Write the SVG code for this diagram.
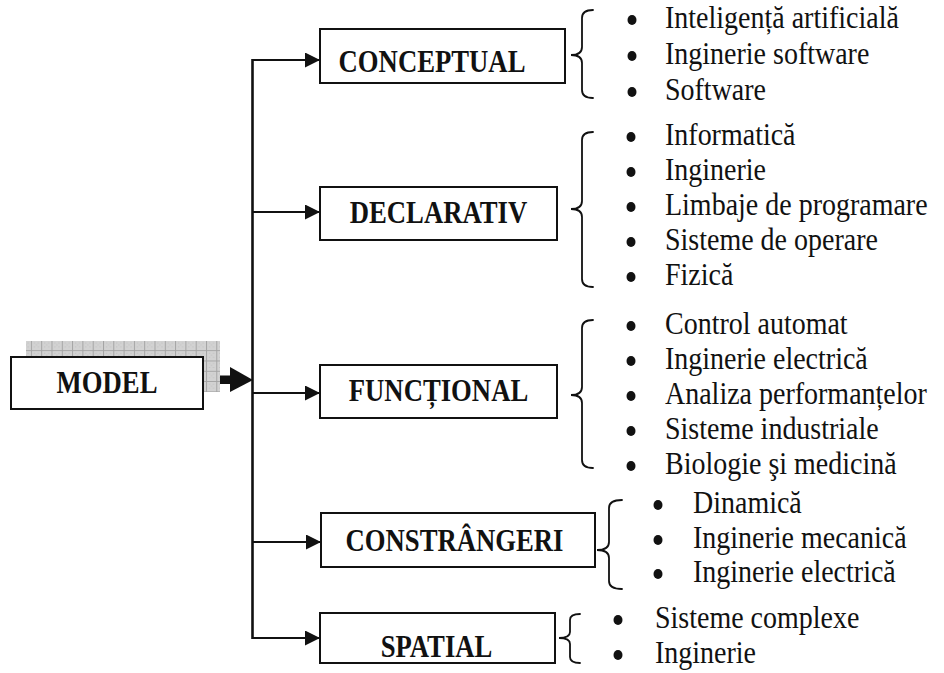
<svg xmlns="http://www.w3.org/2000/svg" width="944" height="673" viewBox="0 0 944 673">
  <defs>
    <style>
      .box { fill: #ffffff; stroke: #111111; stroke-width: 2; }
      .lbl { font-family: "Liberation Serif", "Times New Roman", serif; font-weight: bold; font-size: 26.7px; fill: #111111; text-anchor: middle; }
      .item { font-family: "Liberation Serif", "Times New Roman", serif; font-size: 28px; fill: #111111; }
      .link { fill: none; stroke: #111111; stroke-width: 2; }
      .brace { fill: none; stroke: #111111; stroke-width: 1.8; stroke-linecap: round; }
      .dot { fill: #111111; }
    </style>
    <marker id="head" markerUnits="userSpaceOnUse" markerWidth="16" markerHeight="16" refX="15" refY="7.5" orient="auto">
      <path d="M0,0 L15,7.5 L0,15 Z" fill="#111111"/>
    </marker>
    <pattern id="grid" width="10.3" height="10.3" patternUnits="userSpaceOnUse">
      <rect width="10.3" height="10.3" fill="#d2d2d2"/>
      <path d="M0,0.5 H10.3 M0.5,0 V10.3" stroke="#a4a4a4" stroke-width="1"/>
      <path d="M3,3 h1 M7,3 h1 M3,7 h1 M7,7 h1 M5,5 h1" stroke="#bdbdbd" stroke-width="1"/>
    </pattern>
  </defs>

  <!-- connectors: trunk, branches and the heavy arrow out of MODEL -->
  <g id="connectors">
    <line x1="252.5" y1="59" x2="252.5" y2="639" stroke="#111111" stroke-width="2.6"/>
    <line class="link" x1="252" y1="60" x2="320" y2="60" marker-end="url(#head)"/>
    <line class="link" x1="252" y1="212" x2="320" y2="212" marker-end="url(#head)"/>
    <line class="link" x1="252" y1="393" x2="320" y2="393" marker-end="url(#head)"/>
    <line class="link" x1="252" y1="542" x2="321" y2="542" marker-end="url(#head)"/>
    <line class="link" x1="252" y1="638" x2="320" y2="638" marker-end="url(#head)"/>
    <rect x="203" y="375.5" width="28" height="8.5" fill="#111111"/>
    <path d="M230,367 L253,380 L230,392 Z" fill="#111111"/>
  </g>

  <!-- root node with its shadow -->
  <g id="model">
    <rect x="26" y="341" width="194" height="51" fill="url(#grid)"/>
    <rect class="box" x="11" y="357" width="192" height="52"/>
    <text class="lbl" transform="translate(107 393) scale(1 1.15)">MODEL</text>
  </g>

  <g id="conceptual">
    <rect class="box" x="320" y="29" width="245" height="54"/>
    <text class="lbl" transform="translate(432 72) scale(1 1.15)">CONCEPTUAL</text>
    <path class="brace" d="M593,10 Q582,10 582,18 L582,47 Q582,55 571,55 Q582,55 582,63 L582,90 Q582,98 593,98"/>
    <g class="item">
      <ellipse class="dot" cx="632" cy="20" rx="4.5" ry="5"/>
      <ellipse class="dot" cx="632" cy="56" rx="4.5" ry="5"/>
      <ellipse class="dot" cx="632" cy="92" rx="4.5" ry="5"/>
      <text transform="translate(665 28) scale(1 1.15)">Inteligență artificială</text>
      <text transform="translate(665 64) scale(1 1.15)">Inginerie software</text>
      <text transform="translate(665 100) scale(1 1.15)">Software</text>
    </g>
  </g>

  <g id="declarativ">
    <rect class="box" x="320" y="187" width="237" height="53"/>
    <text class="lbl" transform="translate(438.5 223) scale(1 1.15)">DECLARATIV</text>
    <path class="brace" d="M593,132 Q582,132 582,140 L582,201 Q582,209 571,209 Q582,209 582,217 L582,279 Q582,287 593,287"/>
    <g class="item">
      <ellipse class="dot" cx="631" cy="137" rx="4.5" ry="5"/>
      <ellipse class="dot" cx="631" cy="172" rx="4.5" ry="5"/>
      <ellipse class="dot" cx="631" cy="207" rx="4.5" ry="5"/>
      <ellipse class="dot" cx="631" cy="242" rx="4.5" ry="5"/>
      <ellipse class="dot" cx="631" cy="277" rx="4.5" ry="5"/>
      <text transform="translate(665 145) scale(1 1.15)">Informatică</text>
      <text transform="translate(665 180) scale(1 1.15)">Inginerie</text>
      <text transform="translate(665 215) scale(1 1.15)">Limbaje de programare</text>
      <text transform="translate(665 250) scale(1 1.15)">Sisteme de operare</text>
      <text transform="translate(665 285) scale(1 1.15)">Fizică</text>
    </g>
  </g>

  <g id="functional">
    <rect class="box" x="320" y="365" width="237" height="53"/>
    <text class="lbl" transform="translate(438.5 401) scale(1 1.15)">FUNCȚIONAL</text>
    <path class="brace" d="M593,320 Q582,320 582,328 L582,387 Q582,395 571,395 Q582,395 582,403 L582,460 Q582,468 593,468"/>
    <g class="item">
      <ellipse class="dot" cx="631" cy="326" rx="4.5" ry="5"/>
      <ellipse class="dot" cx="631" cy="361" rx="4.5" ry="5"/>
      <ellipse class="dot" cx="631" cy="396" rx="4.5" ry="5"/>
      <ellipse class="dot" cx="631" cy="431" rx="4.5" ry="5"/>
      <ellipse class="dot" cx="631" cy="466" rx="4.5" ry="5"/>
      <text transform="translate(665 334) scale(1 1.15)">Control automat</text>
      <text transform="translate(665 369) scale(1 1.15)">Inginerie electrică</text>
      <text transform="translate(665 404) scale(1 1.15)">Analiza performanțelor</text>
      <text transform="translate(665 439) scale(1 1.15)">Sisteme industriale</text>
      <text transform="translate(665 474) scale(1 1.15)">Biologie şi medicină</text>
    </g>
  </g>

  <g id="constrangeri">
    <rect class="box" x="321" y="513" width="274" height="54"/>
    <text class="lbl" transform="translate(454.5 551) scale(1 1.15)">CONSTRÂNGERI</text>
    <path class="brace" d="M622,500 Q609,500 609,508 L609,542 Q609,550 597,550 Q609,550 609,558 L609,581 Q609,589 622,589"/>
    <g class="item">
      <ellipse class="dot" cx="658" cy="505" rx="4.5" ry="5"/>
      <ellipse class="dot" cx="658" cy="540" rx="4.5" ry="5"/>
      <ellipse class="dot" cx="658" cy="574" rx="4.5" ry="5"/>
      <text transform="translate(693 513) scale(1 1.15)">Dinamică</text>
      <text transform="translate(693 548) scale(1 1.15)">Inginerie mecanică</text>
      <text transform="translate(693 582) scale(1 1.15)">Inginerie electrică</text>
    </g>
  </g>

  <g id="spatial">
    <rect class="box" x="320" y="613" width="235" height="50"/>
    <text class="lbl" transform="translate(436.5 657) scale(1 1.15)">SPATIAL</text>
    <path class="brace" d="M580,614 Q570,614 570,620 L570,632 Q570,638 559,638 Q570,638 570,644 L570,657 Q570,663 580,663"/>
    <g class="item">
      <ellipse class="dot" cx="618" cy="620" rx="4.5" ry="5"/>
      <ellipse class="dot" cx="618" cy="655" rx="4.5" ry="5"/>
      <text transform="translate(655 628) scale(1 1.15)">Sisteme complexe</text>
      <text transform="translate(655 663) scale(1 1.15)">Inginerie</text>
    </g>
  </g>
</svg>
